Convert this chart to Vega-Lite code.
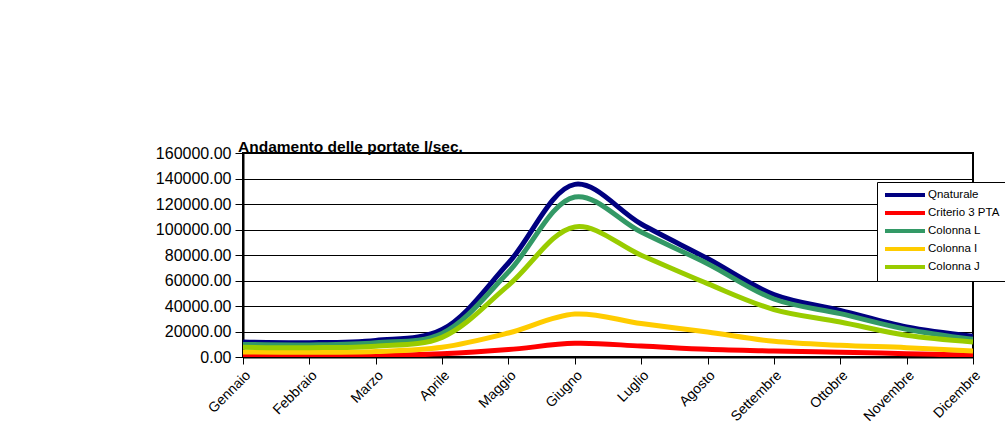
{
  "$schema": "https://vega.github.io/schema/vega-lite/v6.json",
  "width": 730,
  "height": 204,
  "padding": {"left": 243, "top": 153, "right": 32, "bottom": 86},
  "autosize": {"type": "none"},
  "background": "white",
  "config": {
    "font": "Liberation Sans",
    "view": {"stroke": "#000000", "strokeWidth": 2}
  },
  "title": {
    "text": "Andamento delle portate l/sec.",
    "anchor": "start",
    "fontSize": 15.5,
    "fontWeight": "bold",
    "color": "#000000",
    "dx": -5,
    "offset": -22,
    "baseline": "alphabetic",
    "frame": "group"
  },
  "data": {
    "values": [
      {"mese": "Gennaio", "Qnaturale": 11700, "Criterio 3 PTA": 700, "Colonna L": 9900, "Colonna I": 3900, "Colonna J": 7600},
      {"mese": "Febbraio", "Qnaturale": 11200, "Criterio 3 PTA": 700, "Colonna L": 9500, "Colonna I": 3700, "Colonna J": 7300},
      {"mese": "Marzo", "Qnaturale": 13000, "Criterio 3 PTA": 1000, "Colonna L": 11200, "Colonna I": 4300, "Colonna J": 8500},
      {"mese": "Aprile", "Qnaturale": 21500, "Criterio 3 PTA": 2500, "Colonna L": 18500, "Colonna I": 7600, "Colonna J": 15400},
      {"mese": "Maggio", "Qnaturale": 73700, "Criterio 3 PTA": 5800, "Colonna L": 66700, "Colonna I": 18800, "Colonna J": 56200},
      {"mese": "Giugno", "Qnaturale": 135400, "Criterio 3 PTA": 10700, "Colonna L": 125500, "Colonna I": 33700, "Colonna J": 102000},
      {"mese": "Luglio", "Qnaturale": 104300, "Criterio 3 PTA": 8600, "Colonna L": 98000, "Colonna I": 26200, "Colonna J": 79800},
      {"mese": "Agosto", "Qnaturale": 77200, "Criterio 3 PTA": 6000, "Colonna L": 73200, "Colonna I": 19600, "Colonna J": 57500},
      {"mese": "Settembre", "Qnaturale": 49000, "Criterio 3 PTA": 4700, "Colonna L": 45500, "Colonna I": 12300, "Colonna J": 37200},
      {"mese": "Ottobre", "Qnaturale": 36600, "Criterio 3 PTA": 3700, "Colonna L": 34000, "Colonna I": 9200, "Colonna J": 27500},
      {"mese": "Novembre", "Qnaturale": 23500, "Criterio 3 PTA": 2600, "Colonna L": 21700, "Colonna I": 7300, "Colonna J": 17000},
      {"mese": "Dicembre", "Qnaturale": 16200, "Criterio 3 PTA": 1300, "Colonna L": 13900, "Colonna I": 4700, "Colonna J": 11800}
    ]
  },
  "transform": [
    {"fold": ["Qnaturale", "Criterio 3 PTA", "Colonna L", "Colonna I", "Colonna J"], "as": ["serie", "valore"]}
  ],
  "mark": {"type": "line", "interpolate": "catmull-rom", "strokeWidth": 5, "clip": true},
  "encoding": {
    "x": {
      "field": "mese",
      "type": "ordinal",
      "sort": ["Gennaio", "Febbraio", "Marzo", "Aprile", "Maggio", "Giugno", "Luglio", "Agosto", "Settembre", "Ottobre", "Novembre", "Dicembre"],
      "scale": {"type": "point", "padding": 0},
      "axis": {
        "title": null,
        "labelAngle": -45,
        "labelFontSize": 14,
        "labelColor": "#000000",
        "labelPadding": 4,
        "domainColor": "#000000",
        "domainWidth": 2,
        "tickColor": "#000000",
        "tickSize": 7,
        "tickWidth": 1,
        "grid": false
      }
    },
    "y": {
      "field": "valore",
      "type": "quantitative",
      "scale": {"domain": [0, 160000], "nice": false},
      "axis": {
        "title": null,
        "values": [0, 20000, 40000, 60000, 80000, 100000, 120000, 140000, 160000],
        "format": ".2f",
        "labelFontSize": 16,
        "labelColor": "#000000",
        "labelPadding": 4,
        "domainColor": "#000000",
        "domainWidth": 2,
        "tickColor": "#000000",
        "tickSize": 8,
        "gridColor": "#000000",
        "gridOpacity": 1,
        "gridWidth": 1
      }
    },
    "color": {
      "field": "serie",
      "type": "nominal",
      "sort": ["Qnaturale", "Criterio 3 PTA", "Colonna L", "Colonna I", "Colonna J"],
      "scale": {
        "domain": ["Qnaturale", "Criterio 3 PTA", "Colonna L", "Colonna I", "Colonna J"],
        "range": ["#000080", "#FF0000", "#339966", "#FFCC00", "#99CC00"]
      },
      "legend": {
        "title": null,
        "orient": "none",
        "legendX": 634,
        "legendY": 29,
        "fillColor": "#FFFFFF",
        "strokeColor": "#000000",
        "padding": 6,
        "symbolType": "M-1,0H7",
        "symbolSize": 100,
        "symbolStrokeWidth": 4,
        "labelFontSize": 11.5,
        "labelColor": "#000000",
        "labelOffset": 31,
        "rowPadding": 2
      }
    }
  }
}
